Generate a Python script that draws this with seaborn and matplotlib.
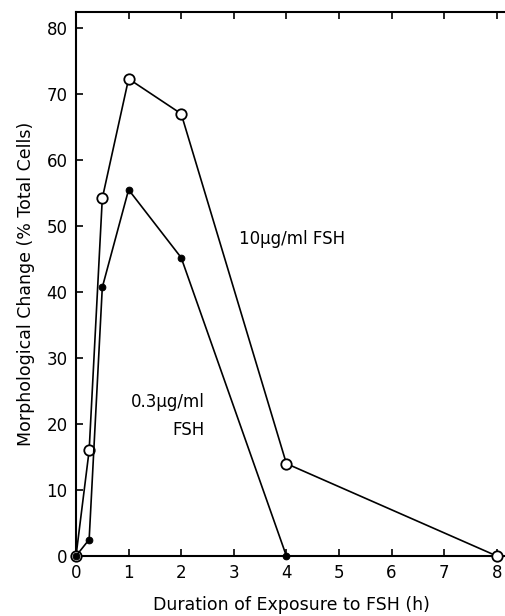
import matplotlib
matplotlib.use("Agg")
import matplotlib.pyplot as plt
import seaborn as sns
import pandas as pd

# Data
hours_10 = [0, 0.25, 0.5, 1, 2, 4, 8]
pct_10 = [0, 16, 54.2, 72.3, 67, 14, 0]
hours_03 = [0, 0.25, 0.5, 1, 2, 4]
pct_03 = [0, 2.5, 40.7, 55.5, 45.2, 0]
x_ticks = [0, 1, 2, 3, 4, 5, 6, 7, 8]
y_ticks = [0, 10, 20, 30, 40, 50, 60, 70, 80]
label_10 = "10\u00b5g/ml FSH"
label_03 = "0.3\u00b5g/ml\nFSH"

sns.set_theme(style="ticks")
plt.rcParams['font.family'] = ['DejaVu Sans']
plt.rcParams['text.color'] = 'black'
plt.rcParams['axes.labelcolor'] = 'black'

fig = plt.figure(figsize=(5.06, 6.16), dpi=100)
ax = fig.add_axes([76 / 506, 60 / 616, 1 - 76 / 506, (556 - 12) / 616])

df10 = pd.DataFrame({"h": hours_10, "p": pct_10})
df03 = pd.DataFrame({"h": hours_03, "p": pct_03})

sns.lineplot(data=df10, x="h", y="p", ax=ax, color="black", lw=1.2, sort=False,
             marker="o", markersize=7.5, markerfacecolor="white",
             markeredgecolor="black", markeredgewidth=1.3, clip_on=False, zorder=3)
sns.lineplot(data=df03, x="h", y="p", ax=ax, color="black", lw=1.2, sort=False,
             marker="o", markersize=4.8, markerfacecolor="black",
             markeredgecolor="black", clip_on=False, zorder=4)

ax.set_xlim(0, (506 - 76) / 52.6)
ax.set_ylim(0, (556 - 12) / 6.6)
ax.set_xticks(x_ticks)
ax.set_yticks(y_ticks)
ax.tick_params(direction="in", length=5, width=1.2, labelsize=12, colors="black",
               top=True, right=False, labeltop=False, pad=6)
for s in ["left", "bottom", "top"]:
    ax.spines[s].set_linewidth(1.5)
    ax.spines[s].set_color("black")
ax.spines["right"].set_visible(False)

ax.set_xlabel("Duration of Exposure to FSH (h)", fontsize=12.5, labelpad=10,
              color="black")
ax.set_ylabel("Morphological Change (% Total Cells)", fontsize=12.5, labelpad=8,
              color="black")

ax.text(3.09, 48.1, label_10, fontsize=12, ha="left", va="center", color="black")
ax.text(2.44, 21.2, label_03, fontsize=12, ha="right", va="center",
        multialignment="right", linespacing=1.75, color="black")

fig.savefig("out.png", dpi=100)
